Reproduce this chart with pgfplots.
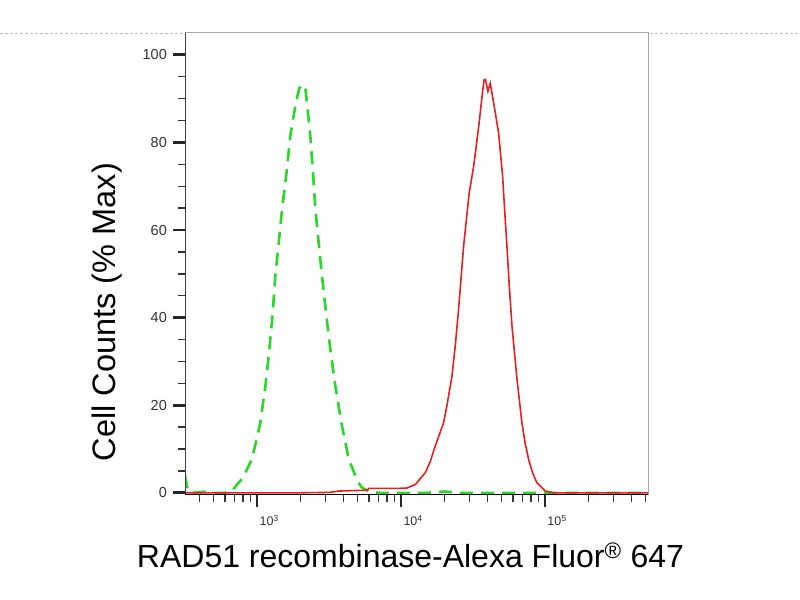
\documentclass[border=0pt]{standalone}
\usepackage{pgfplots}
\pgfplotsset{compat=1.18}
\usepackage{fontspec}
\setmainfont{Liberation Sans}
\definecolor{flowgreen}{RGB}{40,215,40}
\definecolor{flowred}{RGB}{228,32,32}
\begin{document}
\begin{tikzpicture}
\path[use as bounding box] (0,0) rectangle (800bp,600bp);
\draw[gray!55, line width=0.8bp, dash pattern=on 3bp off 2bp] (0,567bp) -- (800bp,567bp);
\begin{axis}[
  at={(185bp,105bp)}, anchor=south west,
  scale only axis, width=463bp, height=462bp,
  xmode=log, xmin=316, xmax=520000,
  ymin=-0.5, ymax=105,
  axis background/.style={fill=white},
  axis line style={draw=gray!70, line width=1bp},
  tick align=outside,
  xtick pos=bottom, ytick pos=left,
  xtick={1000,10000,100000},
  xticklabels={10\textsuperscript{3},10\textsuperscript{4},10\textsuperscript{5}},
  minor xtick={400,500,600,700,800,900,2000,3000,4000,5000,6000,7000,8000,9000,20000,30000,40000,50000,60000,70000,80000,90000,200000,300000,400000,500000},
  ytick={0,20,40,60,80,100},
  minor ytick={5,10,15,25,30,35,45,50,55,65,70,75,85,90,95},
  major tick length=12bp, minor tick length=7bp,
  tick style={draw=black!80, line width=1.4bp},
  every major tick/.append style={line width=2.8bp, draw=black!85},
  every minor tick/.append style={line width=1.4bp},
  /pgf/number format/assume math mode=true,
  yticklabel style={font=\fontsize{14.5bp}{16bp}\selectfont, text=black!80, inner sep=2bp, xshift=-4bp},
  xticklabel style={font=\fontsize{12.5bp}{14bp}\selectfont, text=black!80, anchor=north west, xshift=-1bp, yshift=-5bp},
  xlabel={RAD51 recombinase-Alexa Fluor\textsuperscript{\textregistered}\ 647},
  ylabel={Cell Counts (\% Max)},
  xlabel style={font=\fontsize{32bp}{36bp}\selectfont, at={(axis description cs:0.487,-0.156)}, anchor=base},
  ylabel style={font=\fontsize{32.5bp}{36bp}\selectfont, at={(axis description cs:-0.151,0.396)}, anchor=base},
  clip=true,
]
\addplot[flowgreen, line width=2.6bp, dash pattern=on 13bp off 8bp] coordinates {
(316,4) (330,0.6) (350,0) (420,0.2) (450,0.4) (480,0) (600,0)
(670,0.5) (800,3.5) (923,7.7) (1054,16) (1143,24.4) (1219,32.8) (1285,41.2)
(1340,49.6) (1416,57.2) (1493,64.8) (1614,73.9) (1702,81.6) (1862,89)
(1960,92.3) (2032,93) (2100,93.2) (2168,92.2) (2239,88) (2344,81.6) (2438,73.9)
(2541,64.8) (2679,57.2) (2825,49.6) (3013,41.2) (3228,32.8) (3499,24.4)
(3855,16) (4335,7.7) (5012,2.5) (5358,1.2) (5970,0.3) (7079,0)
(15000,0) (20000,0.3) (25000,0) (520000,0)
};
\addplot[flowred, line width=1.6bp] coordinates {
(316,0) (2000,0) (3200,0.1) (3690,0.4) (5800,0.6) (5970,1.0) (9500,1.0)
(11015,1.1) (12589,1.9) (14757,4.6) (16000,7.2) (17298,10.7) (19770,16.0) (21000,20.5) (22594,26.6)
(23900,34) (25119,41.9) (27227,56.3) (29785,68.5) (31989,74.6) (34674,83.7)
(37000,92) (37800,94.3) (38600,94.4) (40179,91.7) (41687,93.5) (44055,89)
(47643,82.2) (50816,72.3) (52500,64.5) (54450,56.3) (56600,47) (59020,38.1) (63973,25.9)
(69183,16) (73000,11.2) (77090,7.6) (82000,4.6) (87902,2.3) (100462,0.4) (114815,0) (520000,0)
};
\draw[black!75, line width=1.2bp] (rel axis cs:0,0) -- (rel axis cs:0,1);
\draw[black, line width=1.2bp] (rel axis cs:0,0) -- (rel axis cs:1,0);
\end{axis}
\end{tikzpicture}
\end{document}
